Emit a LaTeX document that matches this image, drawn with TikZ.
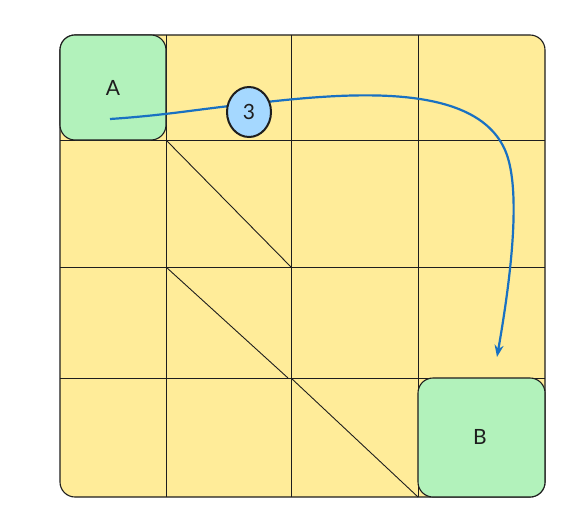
\documentclass[tikz,border=0pt]{standalone}
\usepackage{fontspec}
\setmainfont{Lato}
\usetikzlibrary{arrows.meta,shapes.geometric}

\definecolor{gridyellow}{HTML}{FFEC99}
\definecolor{boxgreen}{HTML}{B2F2BB}
\definecolor{stepblue}{HTML}{A5D8FF}
\definecolor{flowblue}{HTML}{1971C2}
\definecolor{ink}{HTML}{1E1E1E}

\tikzset{
  gridline/.style={ink, line width=0.9pt},
  endbox/.style={draw=ink, fill=boxgreen, line width=1.1pt, rounded corners=15pt},
  steplabel/.style={ellipse, draw=ink, fill=stepblue, line width=2pt, minimum width=44pt, minimum height=50pt, inner sep=0pt, text=ink, font=\fontsize{21}{21}\selectfont},
  flow/.style={flowblue, line width=2.2pt, -{Stealth[length=12pt,width=9pt]}}
}

\begin{document}
\begin{tikzpicture}[x=1pt, y=-1pt]
\useasboundingbox (0,0) rectangle (580,527);

% Board
\draw[ink, fill=gridyellow, line width=1.1pt, rounded corners=15pt] (60,35) rectangle (545,497);
\draw[gridline] (166,35) -- (166,497);
\draw[gridline] (291,35) -- (291,497);
\draw[gridline] (418,35) -- (418,497);
\draw[gridline] (60,140) -- (545,140);
\draw[gridline] (60,267) -- (545,267);
\draw[gridline] (60,378) -- (545,378);

% Diagonals
\draw[gridline] (166,140) -- (291,267);
\draw[gridline] (166,267) -- (288,378);
\draw[gridline] (291,378) -- (418,497);

% Start and goal
\draw[endbox] (60,35) rectangle (166,140);
\node[text=ink, font=\fontsize{21}{21}\selectfont] (A) at (113,88) {A};
\draw[endbox] (418,378) rectangle (545,497);
\node[text=ink, font=\fontsize{21}{21}\selectfont] (B) at (480,437) {B};

% Path
\coordinate (startA) at (110,119);
\coordinate (endB) at (497,357);
\coordinate (three) at (249,104);
\draw[flow] (startA) .. controls (170,115) and (205,108) .. (three)
  .. controls (350,92) and (475,82) .. (505,150)
  .. controls (520,184) and (514,260) .. (endB);

% Step count
\node[steplabel] (stepThree) at (249,112) {3};

\end{tikzpicture}
\end{document}
